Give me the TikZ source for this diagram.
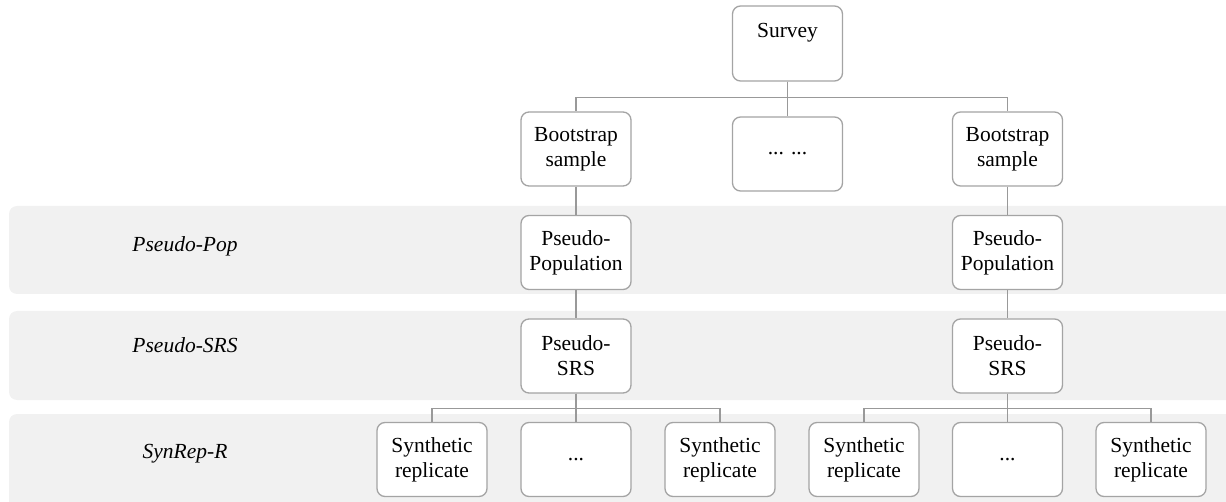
\documentclass[tikz,border=0pt]{standalone}
\usepackage{fontspec}
\setmainfont{Liberation Serif}
\begin{document}
\begin{tikzpicture}[x=1pt,y=-1pt,
  band/.style={fill=bandgray, draw=none, rounded corners=8pt},
  box/.style={draw=boxgray, line width=1.3pt, fill=white, rounded corners=8pt,
    minimum width=110pt, minimum height=74pt, align=center, inner sep=2pt,
    font=\fontsize{21.5}{25}\selectfont},
  lbl/.style={font=\fontsize{21.5}{25}\selectfont\itshape, anchor=base},
  conn/.style={draw=linegray, line width=1.3pt}]
\definecolor{bandgray}{HTML}{F1F1F1}
\definecolor{boxgray}{HTML}{A4A4A4}
\definecolor{linegray}{HTML}{999999}
\useasboundingbox (0,0) rectangle (1226,502);
% bands
\fill[band] (9,206) rectangle (1245,294);
\fill[band] (9,311) rectangle (1245,400);
\fill[band] (9,414) rectangle (1245,515);
% row labels
\node[lbl] (l1) at (185,252) {Pseudo-Pop};
\node[lbl] (l2) at (185,353) {Pseudo-SRS};
\node[lbl] (l3) at (185,458) {SynRep-R};
% nodes
\node[box, minimum height=75pt] (survey) at (787.5,43.5) {Survey\\[2pt]\mbox{}};
\node[box] (bs1) at (576,149) {Bootstrap\\sample};
\node[box] (mid) at (787.5,154) {... ...};
\node[box] (bs2) at (1007.5,149) {Bootstrap\\sample};
\node[box] (pp1) at (576,252.5) {Pseudo-\\Population};
\node[box] (pp2) at (1007.5,252.5) {Pseudo-\\Population};
\node[box] (ps1) at (576,356) {Pseudo-\\SRS};
\node[box] (ps2) at (1007.5,356) {Pseudo-\\SRS};
\node[box] (s1) at (432,459.5) {Synthetic\\replicate};
\node[box] (s2) at (576,459.5) {...};
\node[box] (s3) at (720,459.5) {Synthetic\\replicate};
\node[box] (s4) at (864,459.5) {Synthetic\\replicate};
\node[box] (s5) at (1007.5,459.5) {...};
\node[box] (s6) at (1151,459.5) {Synthetic\\replicate};
% connectors
\draw[conn] (survey.south) -- (mid.north);
\draw[conn] (survey.south) -- ++(0,16) -| (bs1.north);
\draw[conn] (survey.south) -- ++(0,16) -| (bs2.north);
\draw[conn] (bs1.south) -- (pp1.north);
\draw[conn] (bs2.south) -- (pp2.north);
\draw[conn] (pp1.south) -- (ps1.north);
\draw[conn] (pp2.south) -- (ps2.north);
\draw[conn] (ps1.south) -- (s2.north);
\draw[conn] (ps1.south) -- ++(0,15) -| (s1.north);
\draw[conn] (ps1.south) -- ++(0,15) -| (s3.north);
\draw[conn] (ps2.south) -- (s5.north);
\draw[conn] (ps2.south) -- ++(0,15) -| (s4.north);
\draw[conn] (ps2.south) -- ++(0,15) -| (s6.north);
\end{tikzpicture}
\end{document}
